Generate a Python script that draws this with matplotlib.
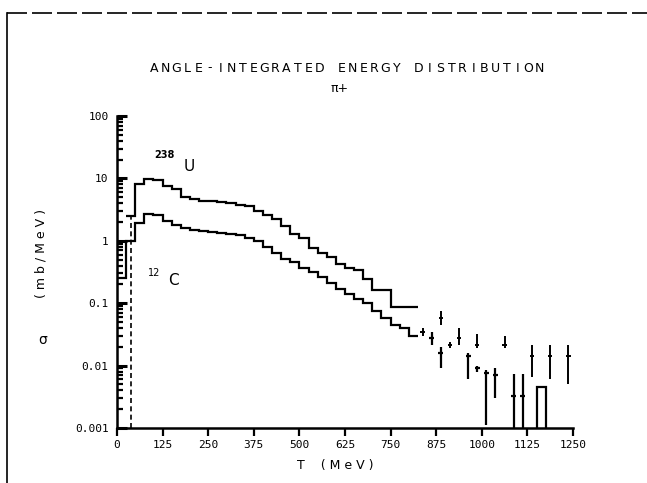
import matplotlib
matplotlib.use("Agg")
import matplotlib.pyplot as plt
from matplotlib.lines import Line2D
from matplotlib.ticker import FixedLocator, LogLocator, NullFormatter
import numpy as np

# pi+ energy spectra, 25 MeV bins
bin_width = 25
u_first_edge = 25
u_vals = [2.5, 8.2, 9.8, 9.6, 7.6, 6.8, 5.1, 4.7, 4.4, 4.4, 4.2, 4.1, 3.8, 3.6,
          3.0, 2.6, 2.2, 1.7, 1.3, 1.1, 0.77, 0.64, 0.55, 0.43, 0.36, 0.34,
          0.24, 0.165, 0.165, 0.088, 0.088, 0.088]
c_first_edge = 0
c_vals = [0.25, 1.0, 1.9, 2.7, 2.6, 2.1, 1.8, 1.6, 1.5, 1.45, 1.4, 1.35, 1.3,
          1.25, 1.1, 1.0, 0.8, 0.64, 0.52, 0.45, 0.37, 0.32, 0.26, 0.21, 0.17,
          0.14, 0.115, 0.1, 0.075, 0.058, 0.045, 0.04, 0.03]

# poorly populated bins at high energy: centre, value, lower, upper
u_tail_T = [837.5, 887.5, 912.5, 937.5, 987.5, 1062.5, 1137.5, 1187.5, 1237.5]
u_tail_v = [0.034, 0.058, 0.021, 0.028, 0.021, 0.021, 0.014, 0.014, 0.014]
u_tail_lo = [0.030, 0.045, 0.019, 0.021, 0.019, 0.019, 0.0065, 0.006, 0.005]
u_tail_hi = [0.040, 0.075, 0.024, 0.040, 0.032, 0.030, 0.021, 0.021, 0.021]

c_tail_T = [862.5, 887.5, 962.5, 987.5, 1012.5, 1037.5, 1087.5, 1112.5]
c_tail_v = [0.028, 0.016, 0.014, 0.009, 0.0075, 0.007, 0.0032, 0.0032]
c_tail_lo = [0.021, 0.009, 0.006, 0.008, 0.0011, 0.003, 0.0009, 0.0009]
c_tail_hi = [0.034, 0.020, 0.016, 0.010, 0.0085, 0.009, 0.0073, 0.0073]

c_box_edges = [1150, 1175]
c_box_val = [0.0046]

x_ticks = [0, 125, 250, 375, 500, 625, 750, 875, 1000, 1125, 1250]
y_ticks = [0.001, 0.01, 0.1, 1, 10, 100]
y_ticklabels = ["0.001", "0.01", "0.1", "1", "10", "100"]

W, H = 647, 483
fig = plt.figure(figsize=(W / 100, H / 100), dpi=100)
ax = fig.add_axes([117 / W, 55 / H, 456 / W, 312 / H])

lw = 1.6
u_edges = u_first_edge + bin_width * np.arange(len(u_vals) + 1)
c_edges = c_first_edge + bin_width * np.arange(len(c_vals) + 1)
ax.stairs(u_vals, u_edges, baseline=None, color="k", lw=lw)
ax.stairs(c_vals, c_edges, baseline=None, color="k", lw=lw)
# left edge of the first U bin runs down to the floor
ax.vlines(u_first_edge + bin_width / 2, 0.001, u_vals[0], color="k", lw=1.2,
          linestyles=(0, (3, 2)))

for T, v, lo, hi in zip(u_tail_T, u_tail_v, u_tail_lo, u_tail_hi):
    ax.errorbar(T, v, yerr=[[v - lo], [hi - v]], xerr=6, fmt="none",
                ecolor="k", elinewidth=1.4, capsize=0)
for T, v, lo, hi in zip(c_tail_T, c_tail_v, c_tail_lo, c_tail_hi):
    ax.errorbar(T, v, yerr=[[v - lo], [hi - v]], xerr=7, fmt="none",
                ecolor="k", elinewidth=1.6, capsize=0)
ax.stairs(c_box_val, c_box_edges, baseline=1e-5, color="k", lw=lw)

ax.set_yscale("log")
ax.set_xlim(0, 1250)
ax.set_ylim(0.001, 100)

for side in ["top", "right"]:
    ax.spines[side].set_visible(False)
for side in ["left", "bottom"]:
    ax.spines[side].set_linewidth(1.8)

ax.xaxis.set_major_locator(FixedLocator(x_ticks))
ax.set_xticklabels([str(t) for t in x_ticks])
ax.yaxis.set_major_locator(FixedLocator(y_ticks))
ax.set_yticklabels(y_ticklabels)
ax.yaxis.set_minor_locator(LogLocator(base=10, subs=np.arange(2, 10)))
ax.yaxis.set_minor_formatter(NullFormatter())
ax.tick_params(axis="x", direction="out", length=6, width=1.6, pad=3,
               labelsize=8)
ax.tick_params(axis="y", which="major", direction="in", length=7, width=2.2,
               pad=6, labelsize=8)
ax.tick_params(axis="y", which="minor", direction="in", length=4.5, width=1.6)
for lab in ax.get_xticklabels() + ax.get_yticklabels():
    lab.set_family("DejaVu Sans Mono")

ax.text(131, 24, "238", fontsize=7, fontweight="bold", ha="center",
        va="center")
ax.text(197, 15.5, "U", fontsize=11, ha="center", va="center")
ax.text(101, 0.31, "12", fontsize=7, ha="center", va="center")
ax.text(156, 0.23, "C", fontsize=11, ha="center", va="center")


def spaced(x, y, s, step, **kw):
    # letter-spaced text, centred on (x, y) in pixels
    n = len(s)
    for i, ch in enumerate(s):
        px = x + (i - (n - 1) / 2) * step
        fig.text(px / W, 1 - y / H, ch, ha="center", va="center", **kw)


spaced(347, 68, "ANGLE-INTEGRATED ENERGY DISTRIBUTION", 11, fontsize=9)
fig.text(340 / W, 1 - 89 / H, "π+", fontsize=9, ha="center", va="center")

spaced(41, 253, "", 1)
fig.text(41 / W, 1 - 253 / H, "( m b / M e V )", rotation=90, fontsize=9,
         ha="center", va="center")
fig.text(43 / W, 1 - 340 / H, "σ", fontsize=10, ha="center", va="center")
fig.text(335 / W, 1 - 466 / H, "T    ( M e V )", fontsize=9, ha="center",
         va="center")

# frame of the page
fig.add_artist(Line2D([7 / W, 7 / W], [0, 1 - 13 / H], color="k", lw=1.2))
fig.add_artist(Line2D([7 / W, 1], [1 - 13 / H, 1 - 13 / H], color="k",
                      lw=1.2, linestyle=(0, (12, 3))))

fig.savefig("out.png", dpi=100)
